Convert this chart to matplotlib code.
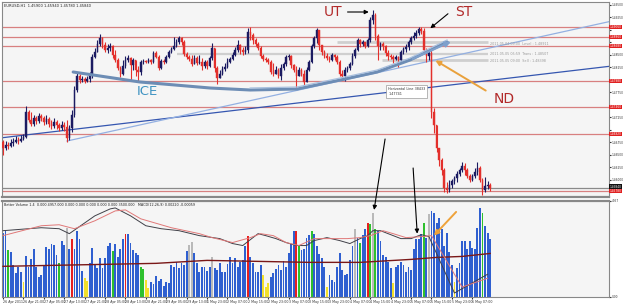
import numpy as np
import matplotlib
matplotlib.use("Agg")
import matplotlib.pyplot as plt
import matplotlib.transforms as mtransforms
from matplotlib.patches import ConnectionPatch

# ---------------- data (EURUSD H1) ----------------
close = [1.4664,1.4670,1.4668,1.4674,1.4676,1.4680,1.4678,1.4682,1.4686,1.4736,
         1.4720,1.4712,1.4724,1.4718,1.4728,1.4724,1.4716,1.4722,1.4712,1.4708,
         1.4716,1.4710,1.4704,1.4710,1.4706,1.4684,1.4704,1.4730,1.4780,1.4808,
         1.4800,1.4802,1.4798,1.4802,1.4810,1.4846,1.4856,1.4872,1.4884,1.4870,
         1.4860,1.4864,1.4868,1.4850,1.4840,1.4824,1.4812,1.4828,1.4840,1.4844,
         1.4830,1.4840,1.4820,1.4816,1.4836,1.4838,1.4836,1.4840,1.4836,1.4854,
         1.4846,1.4824,1.4838,1.4836,1.4846,1.4856,1.4862,1.4868,1.4876,1.4884,
         1.4876,1.4852,1.4846,1.4842,1.4832,1.4844,1.4834,1.4836,1.4828,1.4836,
         1.4828,1.4844,1.4864,1.4824,1.4804,1.4812,1.4822,1.4826,1.4836,1.4842,
         1.4850,1.4860,1.4870,1.4860,1.4856,1.4860,1.4896,1.4890,1.4880,1.4872,
         1.4864,1.4848,1.4842,1.4840,1.4836,1.4816,1.4812,1.4820,1.4808,1.4824,
         1.4832,1.4846,1.4848,1.4830,1.4820,1.4808,1.4820,1.4812,1.4796,1.4820,
         1.4836,1.4868,1.4884,1.4900,1.4870,1.4856,1.4848,1.4844,1.4840,1.4850,
         1.4846,1.4836,1.4812,1.4808,1.4820,1.4824,1.4832,1.4848,1.4860,1.4880,
         1.4872,1.4876,1.4868,1.4880,1.4920,1.4930,1.4888,1.4868,1.4872,1.4868,
         1.4854,1.4848,1.4846,1.4842,1.4846,1.4840,1.4856,1.4862,1.4866,1.4876,
         1.4884,1.4888,1.4894,1.4902,1.4898,1.4860,1.4848,1.4854,1.4736,1.4710,
         1.4664,1.4640,1.4620,1.4584,1.4580,1.4590,1.4598,1.4604,1.4612,1.4620,
         1.4628,1.4620,1.4608,1.4600,1.4608,1.4616,1.4624,1.4600,1.4580,1.4588,
         1.4590,1.4584]
high = [1.4680,1.4678,1.4676,1.4682,1.4684,1.4688,1.4686,1.4690,1.4692,1.4748,
        1.4740,1.4736,1.4730,1.4728,1.4734,1.4732,1.4728,1.4730,1.4726,1.4720,
        1.4724,1.4720,1.4714,1.4718,1.4716,1.4720,1.4710,1.4740,1.4788,1.4816,
        1.4812,1.4808,1.4806,1.4808,1.4816,1.4852,1.4864,1.4880,1.4892,1.4886,
        1.4876,1.4872,1.4874,1.4870,1.4860,1.4844,1.4828,1.4840,1.4848,1.4850,
        1.4846,1.4844,1.4840,1.4828,1.4840,1.4842,1.4840,1.4844,1.4842,1.4858,
        1.4858,1.4850,1.4842,1.4842,1.4850,1.4860,1.4866,1.4886,1.4882,1.4888,
        1.4886,1.4880,1.4856,1.4850,1.4850,1.4850,1.4848,1.4850,1.4844,1.4840,
        1.4840,1.4848,1.4874,1.4860,1.4828,1.4820,1.4828,1.4834,1.4844,1.4846,
        1.4856,1.4866,1.4880,1.4872,1.4866,1.4868,1.4904,1.4906,1.4894,1.4884,
        1.4876,1.4868,1.4852,1.4846,1.4844,1.4840,1.4834,1.4828,1.4824,1.4832,
        1.4836,1.4850,1.4852,1.4850,1.4832,1.4828,1.4826,1.4824,1.4820,1.4826,
        1.4840,1.4872,1.4888,1.4904,1.4888,1.4868,1.4860,1.4854,1.4848,1.4854,
        1.4852,1.4850,1.4840,1.4820,1.4826,1.4828,1.4836,1.4854,1.4864,1.4884,
        1.4882,1.4880,1.4876,1.4884,1.4926,1.4940,1.4934,1.4892,1.4876,1.4876,
        1.4870,1.4860,1.4852,1.4850,1.4850,1.4848,1.4860,1.4866,1.4872,1.4880,
        1.4888,1.4896,1.4900,1.4906,1.4906,1.4904,1.4864,1.4858,1.4860,1.4744,
        1.4710,1.4664,1.4644,1.4624,1.4596,1.4600,1.4602,1.4608,1.4618,1.4624,
        1.4636,1.4634,1.4624,1.4612,1.4612,1.4624,1.4636,1.4628,1.4604,1.4606,
        1.4598,1.4594]
low = [1.4650,1.4660,1.4662,1.4666,1.4668,1.4674,1.4672,1.4676,1.4680,1.4684,
       1.4716,1.4708,1.4708,1.4712,1.4714,1.4718,1.4710,1.4712,1.4706,1.4702,
       1.4704,1.4702,1.4698,1.4700,1.4698,1.4676,1.4680,1.4696,1.4726,1.4776,
       1.4794,1.4796,1.4794,1.4796,1.4796,1.4804,1.4844,1.4856,1.4868,1.4864,
       1.4856,1.4854,1.4858,1.4844,1.4836,1.4820,1.4806,1.4810,1.4824,1.4836,
       1.4800,1.4820,1.4808,1.4798,1.4810,1.4832,1.4834,1.4834,1.4832,1.4834,
       1.4844,1.4820,1.4822,1.4832,1.4834,1.4844,1.4854,1.4860,1.4866,1.4872,
       1.4870,1.4848,1.4842,1.4838,1.4828,1.4832,1.4830,1.4832,1.4820,1.4824,
       1.4822,1.4826,1.4840,1.4816,1.4792,1.4804,1.4810,1.4818,1.4824,1.4834,
       1.4840,1.4848,1.4856,1.4852,1.4850,1.4852,1.4854,1.4880,1.4872,1.4868,
       1.4860,1.4844,1.4838,1.4836,1.4832,1.4812,1.4808,1.4812,1.4804,1.4800,
       1.4820,1.4828,1.4840,1.4824,1.4816,1.4784,1.4810,1.4808,1.4790,1.4804,
       1.4818,1.4834,1.4864,1.4874,1.4860,1.4850,1.4844,1.4840,1.4836,1.4838,
       1.4840,1.4832,1.4808,1.4800,1.4798,1.4816,1.4820,1.4830,1.4844,1.4858,
       1.4866,1.4868,1.4864,1.4866,1.4876,1.4912,1.4880,1.4840,1.4860,1.4860,
       1.4848,1.4840,1.4842,1.4834,1.4840,1.4826,1.4836,1.4852,1.4856,1.4860,
       1.4872,1.4880,1.4884,1.4890,1.4892,1.4856,1.4836,1.4840,1.4724,1.4694,
       1.4656,1.4628,1.4610,1.4576,1.4574,1.4576,1.4584,1.4592,1.4596,1.4608,
       1.4616,1.4610,1.4604,1.4596,1.4598,1.4604,1.4610,1.4596,1.4570,1.4576,
       1.4582,1.4578]
first_open = 1.4676

volume = [3250,3350,2350,2250,1600,1200,1500,1250,750,2050,
          1500,1900,2450,1500,1000,1100,1600,2550,2400,2700,
          2650,2100,1700,2850,2650,3500,2450,2950,2450,3350,
          2950,1300,950,800,1700,2500,1600,1450,1950,1450,
          1950,2600,2750,2300,2700,2000,2450,2950,3200,3200,
          2750,2350,2200,2100,1500,1400,850,450,750,650,
          1050,800,900,550,750,700,1600,1500,1750,1450,
          1700,1600,2300,2650,2800,2200,1700,1250,1500,1500,
          1300,1500,2000,1450,1350,1700,1250,1250,1650,2000,
          1700,1950,1500,1750,1850,2600,3100,2000,1700,1250,
          1250,1600,1100,500,700,1000,1200,1400,1600,1350,
          1800,1500,2200,2700,3350,3350,2650,2350,2450,3000,
          3150,3350,3200,2600,2150,1950,1500,500,1100,850,
          750,1500,2200,1350,1100,1150,1850,2600,3450,3000,
          2750,3150,3450,3750,3700,4250,3450,3350,2850,2100,
          2000,1750,1450,700,1500,1600,1750,1600,1250,1500,
          1350,2450,2950,2950,3200,3750,3000,4200,4350,4250,
          3750,4000,3450,2600,3250,2250,1600,750,1450,1700,
          2850,2850,2450,2850,2500,2450,3500,4500,4250,3600,
          3250,2950]
# Better Volume bar classes (all others are plain blue)
volume_class = {2:'g', 8:'y', 22:'g', 25:'k', 27:'r', 32:'y', 33:'y', 43:'g', 48:'r',
                54:'g', 55:'g', 56:'y', 57:'y', 73:'k', 74:'k', 82:'k', 96:'r', 102:'y',
                103:'y', 104:'y', 115:'r', 116:'g', 121:'g', 127:'y', 138:'k', 140:'g',
                143:'r', 144:'g', 145:'k', 146:'g', 153:'y', 165:'g', 167:'k', 177:'y', 188:'g'}

vol_ma_bar = [0, 20, 40, 60, 80, 100, 120, 140, 160, 170, 180, 191]
vol_ma = [1550, 1600, 1650, 1700, 1850, 1800, 1750, 1750, 1900, 2000, 2050, 2200]

macd_bar = [0,15,22,26,36,42,44,50,56,62,69,77,85,90,94,100,103,107,111,115,119,122,
            127,132,136,140,143,145,148,151,156,160,164,167,177,190]
macd_main = [0.0020,0.0023,0.0022,0.0017,0.0035,0.0042,0.0043,0.0035,0.0025,0.0022,0.0020,
             0.0015,0.0012,0.0007,0.0005,0.0017,0.0015,0.0012,0.0008,0.0005,0.0005,0.0010,
             0.0013,0.0010,0.0007,0.0012,0.0015,0.0020,0.0020,0.0017,0.0012,0.0012,0.0016,
             0.0014,-0.0043,-0.0024]
signal_bar = [0,15,22,28,36,44,48,54,66,77,82,90,97,101,106,111,116,122,129,135,140,144,
              149,153,158,164,168,180,190]
macd_signal = [0.0015,0.0025,0.0026,0.0022,0.0030,0.0040,0.0041,0.0032,0.0023,0.0017,0.0013,
               0.0008,0.0013,0.0017,0.0015,0.0008,0.0005,0.0012,0.0012,0.0012,0.0013,0.0015,
               0.0020,0.0017,0.0013,0.0014,0.0015,-0.0037,-0.0028]

red_levels = [1.4906, 1.4886, 1.4868, 1.4798, 1.4746, 1.4692, 1.4578]
price_ticks = [1.4575, 1.4600, 1.4625, 1.4650, 1.4675, 1.4700, 1.4725, 1.4750, 1.4775,
               1.4800, 1.4825, 1.4850, 1.4875, 1.4900, 1.4925, 1.4950]
time_label_bar = list(range(0, 192, 8))
time_labels = ["26 Apr 2011", "26 Apr 21:00", "27 Apr 05:00", "27 Apr 13:00", "27 Apr 21:00",
               "28 Apr 05:00", "28 Apr 13:00", "28 Apr 21:00", "29 Apr 05:00", "29 Apr 13:00",
               "1 May 23:00", "2 May 07:00", "2 May 15:00", "2 May 23:00", "3 May 07:00",
               "3 May 15:00", "3 May 23:00", "4 May 07:00", "4 May 15:00", "4 May 23:00",
               "5 May 07:00", "5 May 15:00", "5 May 23:00", "6 May 07:00"]

# drawn objects (bar index, price)
ice_bar = [27.5, 53.7, 81.2, 96.9, 115.3, 132.2, 146.7, 159.6, 174.1]
ice_price = [1.4816, 1.4796, 1.4784, 1.4780, 1.4782, 1.4800, 1.4816, 1.4840, 1.4876]
trend_dark = ([-1.2, 238.8], [1.4684, 1.4828])
trend_light = ([25.1, 238.8], [1.4678, 1.4918])

# ---------------- figure ----------------
W, H = 625, 305
fig = plt.figure(figsize=(W/100, H/100), dpi=100)
fig.patch.set_facecolor("white")
bg = "#f5f5f5"
XMAX = 237.6

ax = fig.add_axes([2/W, 1-197/H, 607/W, 195/H])
axv = fig.add_axes([2/W, 1-297/H, 607/W, 96/H], sharex=ax)
for a in (ax, axv):
    a.set_facecolor(bg)
    for s in a.spines.values():
        s.set_color("#888888"); s.set_linewidth(0.8)
ax.spines["bottom"].set_linewidth(1.6)
axv.spines["top"].set_linewidth(1.6)

n = len(close)
idx = np.arange(n)
c = np.array(close); hi = np.array(high); lo = np.array(low)
o = np.concatenate([[first_open], c[:-1]])
hi = np.maximum(hi, np.maximum(o, c)); lo = np.minimum(lo, np.minimum(o, c))
bull = c >= o
col = np.where(bull, "#1b1b62", "#e3302c")

ax.set_xlim(-0.4, XMAX)
ax.set_ylim(1.4566, 1.4956)

for lv in red_levels:
    ax.axhline(lv, color="#d88080", lw=0.9, zorder=1)
ax.axhline(close[-1], color="#8a8a8a", lw=0.9, zorder=1)

# gray level lines with tiny notes
ax.hlines(1.4876, 131, 190.2, color="#cfcfcf", lw=2.0, zorder=1)
ax.hlines(1.4852, 68.2, 190.2, color="#cfcfcf", lw=1.6, zorder=1)
ax.hlines(1.4840, 148.6, 190.2, color="#cfcfcf", lw=2.0, zorder=1)
for p, t in [(1.4872, "2011.05.04 09:00  Level : 1.48911"),
             (1.4852, "2011.05.05 05:59  Trans : 1.48507"),
             (1.4838, "2011.05.05 09:00  Sell : 1.48398")]:
    ax.text(191, p, t, fontsize=2.4, color="#9a9a9a", va="center", ha="left")

ax.plot(*trend_dark, color="#3556b0", lw=0.9, zorder=2)
ax.plot(*trend_light, color="#93b0e2", lw=0.9, zorder=2)

ax.vlines(idx, lo, hi, colors=col, lw=0.8, zorder=3)
body = np.maximum(np.abs(c - o), 0.00005)
ax.bar(idx, body, bottom=np.minimum(o, c), width=0.62, color=col, edgecolor=col,
       lw=0.3, zorder=4)

# ICE curve
ax.plot(ice_bar, ice_price, color="#6d8db5", lw=2.2, solid_capstyle="round", zorder=5)
ax.plot(ice_bar[3:], [p + 0.0004 for p in ice_price[3:]], color="#a9c0de", lw=0.9, zorder=5)
ax.annotate("", xy=(ice_bar[-1] + 2.5, ice_price[-1] + 0.0003), xytext=(ice_bar[-2], ice_price[-2]),
            arrowprops=dict(arrowstyle="-|>", color="#7fa0cc", lw=1.5, mutation_scale=8), zorder=6)
ax.text(56.5, 1.4776, "ICE", color="#3f93c2", fontsize=9.5, ha="center", va="center")

lab_col = "#b22a2a"
ax.text(129.5, 1.4936, "UT", color=lab_col, fontsize=10, ha="center", va="center")
ax.annotate("", xy=(144.5, 1.4936), xytext=(134.0, 1.4936),
            arrowprops=dict(arrowstyle="-|>", color="black", lw=0.8, mutation_scale=6))
ax.text(180.5, 1.4936, "ST", color=lab_col, fontsize=10, ha="center", va="center")
ax.annotate("", xy=(166.7, 1.4900), xytext=(175.3, 1.4936),
            arrowprops=dict(arrowstyle="-|>", color="black", lw=0.8, mutation_scale=6))
ax.text(196.5, 1.4762, "ND", color=lab_col, fontsize=10, ha="center", va="center")
ax.annotate("", xy=(168.6, 1.4842), xytext=(190.2, 1.4776),
            arrowprops=dict(arrowstyle="-|>", color="#e9a13c", lw=1.4, mutation_scale=7))

ax.text(151, 1.4786, "Horizontal Line 38433\n1.47741", fontsize=2.4, color="#333333",
        va="top", ha="left", linespacing=1.5,
        bbox=dict(boxstyle="square,pad=0.5", fc="white", ec="#9a9a9a", lw=0.5))

ax.text(0.004, 0.99, "EURUSD,H1  %.5f %.5f %.5f %.5f" % (o[-1], hi[-1], lo[-1], c[-1]),
        transform=ax.transAxes, fontsize=2.6, va="top", ha="left", color="#222222")

# right price scale (tick labels hidden where a level label covers them)
ax.yaxis.tick_right()
ax.set_yticks(price_ticks)
covered = red_levels + [close[-1]]
ax.set_yticklabels(["" if min(abs(p - q) for q in covered) < 0.0009 else "%.5f" % p
                    for p in price_ticks])
ax.tick_params(axis="y", labelsize=2.1, length=1.2, pad=0.5, colors="#333333")
ax.tick_params(axis="x", bottom=False, labelbottom=False)
blend = mtransforms.blended_transform_factory(ax.transAxes, ax.transData)
for lv in red_levels:
    ax.text(1.0015, lv, "%.5f" % lv, transform=blend, fontsize=2.1, color="white",
            va="center", ha="left", bbox=dict(boxstyle="square,pad=0.15", fc="#e02020", ec="none"),
            clip_on=False, zorder=8)
ax.text(1.0015, close[-1] + 0.00022, "%.5f" % close[-1], transform=blend, fontsize=2.1,
        color="white", va="center", ha="left",
        bbox=dict(boxstyle="square,pad=0.15", fc="#111111", ec="none"), clip_on=False, zorder=8)

# ---------------- volume panel ----------------
cmap = {"b": "#2f5fd0", "g": "#2ec02e", "y": "#f2e02a", "r": "#e62020", "k": "#b9b9b9"}
vcols = [cmap[volume_class.get(i, "b")] for i in range(n)]
axv.bar(idx, volume, width=0.72, color=vcols, edgecolor="none", zorder=2)
axv.set_ylim(0, 4850)
axv.plot(vol_ma_bar, vol_ma, color="#7a1818", lw=1.0, zorder=3)

axm = axv.twinx()
axm.set_ylim(-0.0047, 0.0050)
axm.plot(macd_bar, macd_main, color="#404048", lw=0.7, zorder=4)
axm.plot(signal_bar, macd_signal, color="#e07878", lw=0.7, zorder=4)
axm.set_yticks([]); axm.set_xlim(-0.4, XMAX)
for s in axm.spines.values():
    s.set_visible(False)

axv.yaxis.tick_right()
axv.set_yticks([0, 4850])
axv.set_yticklabels(["0.00", "4957"])
axv.tick_params(axis="y", labelsize=2.1, length=1.2, pad=0.5, colors="#333333")
axv.set_xticks(time_label_bar)
axv.set_xticklabels(time_labels, ha="left")
axv.tick_params(axis="x", labelsize=2.3, length=1.5, pad=0.8, colors="#333333")
axv.text(0.004, 0.975, "Better Volume 1.4  0.000 4957.000 0.000 0.000 0.000 0.000 0.000 3500.000   MACD(12,26,9) 0.00220 -0.00059",
         transform=axv.transAxes, fontsize=2.4, va="top", ha="left", color="#222222", zorder=6)

axm.annotate("", xy=(168.2, 0.0013), xytext=(178.4, 0.0041),
             arrowprops=dict(arrowstyle="-|>", color="#eea23a", lw=1.4, mutation_scale=7))

# arrows from price panel down to volume panel
for (xa, pa, xb, vb) in [(149.8, 1.4682, 145.5, 4400), (160.8, 1.4624, 162.4, 3200)]:
    con = ConnectionPatch(xyA=(xa, pa), coordsA=ax.transData, xyB=(xb, vb), coordsB=axv.transData,
                          arrowstyle="-|>", color="black", lw=0.8, mutation_scale=6, zorder=10)
    fig.add_artist(con)

fig.savefig("out.png", dpi=100, facecolor="white")
